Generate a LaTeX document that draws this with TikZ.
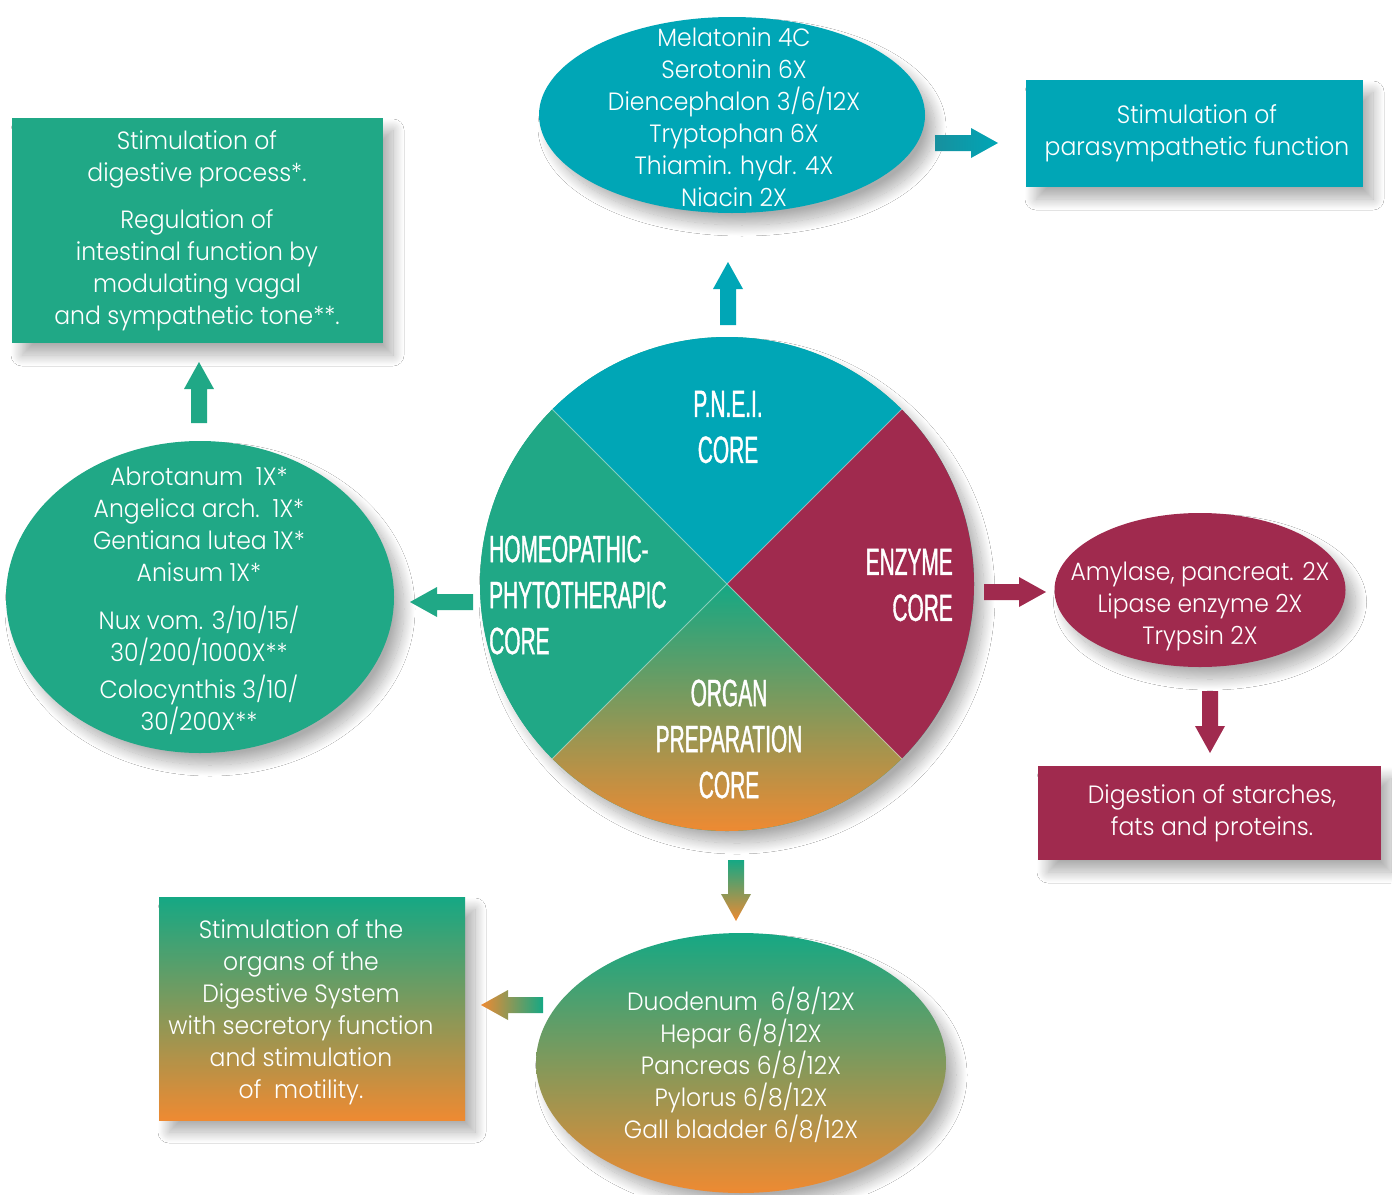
\documentclass[tikz,border=0pt]{standalone}
\usepackage{fontspec}
\setmainfont{Poppins}[UprightFont=* Light, FakeStretch=0.94]
\newfontfamily\condfont{Liberation Sans}[FakeStretch=0.55, FakeBold=1]
\usetikzlibrary{calc,shapes.geometric,shadows.blur}
\definecolor{cteal}{HTML}{00A6B6}
\definecolor{ctealD}{HTML}{17909E}
\definecolor{cgreen}{HTML}{20A886}
\definecolor{cgreenT}{HTML}{15A884}
\definecolor{ccrim}{HTML}{A02A4E}
\definecolor{corange}{HTML}{EE8A32}
\tikzset{
  shd/.style={blur shadow={shadow xshift=10pt, shadow yshift=-12pt, shadow blur radius=11pt, shadow blur steps=24, shadow opacity=32}},
  txt/.style={text=white, font=\fontsize{25}{32}\selectfont, align=center, inner sep=0},
  boxshape/.style={shd, rectangle, inner sep=0},
  ellshape/.style={shd, ellipse, inner sep=0},
  coretxt/.style={text=white, font=\condfont\fontsize{38}{46}\selectfont, inner sep=0},
}
\newcommand\blockarrow[3]{%
  \coordinate (bah) at ($(#2)!27pt!(#1)$);
  \path[#3] ($(#1)!8pt!90:(#2)$) -- ($(bah)!8pt!90:(#2)$) -- ($(bah)!15pt!90:(#2)$) -- (#2)
    -- ($(bah)!15pt!-90:(#2)$) -- ($(bah)!8pt!-90:(#2)$) -- ($(#1)!8pt!-90:(#2)$) -- cycle;
}
\begin{document}
\begin{tikzpicture}[x=1pt,y=-1pt]
\useasboundingbox (0,0) rectangle (1392,1194);
\fill[white] (0,0) rectangle (1392,1194);

% central circle
\node[circle, minimum size=494pt, inner sep=0, fill=cgreen, shd] (core) at (727,584) {};
\begin{scope}
  \clip (core.center) circle (247pt);
  \fill[cteal] (core.center) -- ++(-260,-260) -- ++(520,0) -- cycle;
  \fill[ccrim] (core.center) -- ++(260,-260) -- ++(0,520) -- cycle;
  \fill[cgreen] (core.center) -- ++(-260,-260) -- ++(0,520) -- cycle;
  \shade[top color=cgreenT, bottom color=corange] (core.center) -- ++(-247,247) -- ++(494,0) -- cycle;
  \draw[white, opacity=0.45, line width=0.8pt] ($(core.center)+(-260,-260)$) -- ($(core.center)+(260,260)$)
       ($(core.center)+(260,-260)$) -- ($(core.center)+(-260,260)$);
\end{scope}
\node[coretxt, align=center] (tpnei) at (728,427) {P.N.E.I.\\CORE};
\node[coretxt, align=left, anchor=west] (thomeo) at (489,595) {HOMEOPATHIC-\\PHYTOTHERAPIC\\CORE};
\node[coretxt, align=right, anchor=east] (tenz) at (953,585) {ENZYME\\CORE};
\node[coretxt, align=center] (torg) at (729,739) {ORGAN\\PREPARATION\\CORE};

% surrounding shapes
\node[ellshape, fill=cteal, minimum width=386pt, minimum height=196pt] (pnei) at (732,115) {};
\node[txt] (pneiT) at (734,117) {Melatonin 4C\\Serotonin 6X\\Diencephalon 3/6/12X\\Tryptophan 6X\\Thiamin. hydr. 4X\\Niacin 2X};

\node[boxshape, fill=cteal, minimum width=337pt, minimum height=107pt] (para) at (1194.5,133.5) {};
\node[txt] (paraT) at (1197,133) {Stimulation of\\parasympathetic function};

\node[boxshape, fill=cgreen, minimum width=371pt, minimum height=225pt] (dig) at (197.5,230.5) {};
\node[txt] (digT) at (197,231) {Stimulation of\\digestive process*.\\[15pt]Regulation of\\intestinal function by\\modulating vagal\\and sympathetic tone**.};

\node[ellshape, fill=cgreen, minimum width=388pt, minimum height=312pt] (homeo) at (200,597) {};
\node[txt] (homeoT) at (199,601) {Abrotanum~~1X*\\Angelica arch.~~1X*\\Gentiana lutea 1X*\\Anisum 1X*\\[16pt]Nux vom. 3/10/15/\\30/200/1000X**\\[5pt]Colocynthis 3/10/\\30/200X**};

\node[ellshape, fill=ccrim, minimum width=291pt, minimum height=154pt] (enz) at (1200,590) {};
\node[txt] (enzT) at (1200,606) {Amylase, pancreat. 2X\\Lipase enzyme 2X\\Trypsin 2X};

\node[boxshape, fill=ccrim, minimum width=343pt, minimum height=94pt] (starch) at (1209.5,813) {};
\node[txt] (starchT) at (1212,813) {Digestion of starches,\\fats and proteins.};

\node[ellshape, top color=cgreenT, bottom color=corange, minimum width=410pt, minimum height=260pt] (organ) at (741,1063) {};
\node[txt] (organT) at (741,1065) {Duodenum~~6/8/12X\\Hepar 6/8/12X\\Pancreas 6/8/12X\\Pylorus 6/8/12X\\Gall bladder 6/8/12X};

\node[boxshape, top color=cgreenT, bottom color=corange, minimum width=306pt, minimum height=223pt] (stim) at (312,1008.5) {};
\node[txt] (stimT) at (301,1012) {Stimulation of the\\organs of the\\Digestive System\\with secretory function\\and stimulation\\of~~motility.};

% arrow ends
\coordinate (a1s) at (728,325);  \coordinate (a1e) at (728,262);
\coordinate (a2s) at (935,143);  \coordinate (a2e) at (998,143);
\coordinate (a3s) at (473,602);  \coordinate (a3e) at (410,602);
\coordinate (a4s) at (199,423);  \coordinate (a4e) at (199,362);
\coordinate (a5s) at (984,592);  \coordinate (a5e) at (1046,592);
\coordinate (a6s) at (1210,691); \coordinate (a6e) at (1210,753);
\coordinate (a7s) at (736,860);  \coordinate (a7e) at (736,921);
\coordinate (a8s) at (543,1005); \coordinate (a8e) at (481,1005);

\blockarrow{a1s}{a1e}{fill=cteal}
\blockarrow{a2s}{a2e}{left color=ctealD, right color=cteal}
\blockarrow{a3s}{a3e}{fill=cgreen}
\blockarrow{a4s}{a4e}{fill=cgreen}
\blockarrow{a5s}{a5e}{fill=ccrim}
\blockarrow{a6s}{a6e}{fill=ccrim}
\blockarrow{a7s}{a7e}{top color=cgreenT, bottom color=corange}
\blockarrow{a8s}{a8e}{left color=corange, right color=cgreenT}
\end{tikzpicture}
\end{document}
